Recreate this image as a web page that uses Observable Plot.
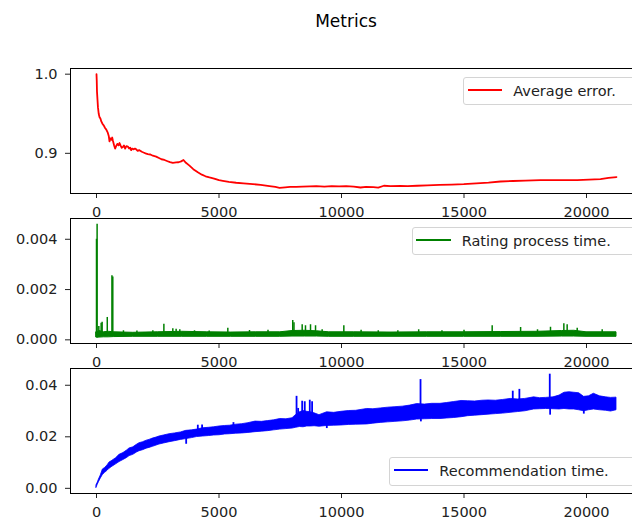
<!DOCTYPE html>
<html><head><meta charset="utf-8">
<script src="https://cdn.jsdelivr.net/npm/d3@7"></script>
<script src="https://cdn.jsdelivr.net/npm/@observablehq/plot@0.6"></script>
<style>
html,body{margin:0;padding:0;background:#fff;overflow:hidden;}
#fig{position:relative;width:632px;height:522px;overflow:hidden;font-family:"DejaVu Sans",sans-serif;background:#fff;}
#title{position:absolute;left:0;width:692px;top:11px;text-align:center;font-size:17px;line-height:20px;color:#000;}
.panel{position:absolute;left:0;}
.legend{position:absolute;box-sizing:border-box;height:28.5px;border:1px solid #d4d4d4;border-radius:3px;background:rgba(255,255,255,0.8);font-size:14.5px;color:#222;white-space:nowrap;}
.legend .sw{position:absolute;left:3.5px;top:11px;width:34.5px;height:2px;}
.legend .tx{position:absolute;left:49px;top:4px;line-height:18px;}
</style></head>
<body>
<div id="fig"><div id="title">Metrics</div></div>
<script>
// ---------- data ----------
const xTicks = [0, 5000, 10000, 15000, 20000];

// Panel 1: Average error
const errX = [0,10,20,40,60,90,120,160,200,250,
  300,350,400,460,500,530,560,600,640,670,
  720,760,800,850,900,940,980,1030,1075,1120,
  1170,1220,1280,1330,1380,1415,1460,1520,1570,1620,
  1680,1740,1800,1850,1920,2000,2095,2200,2300,2435,
  2550,2650,2775,2900,3000,3115,3250,3350,3455,3550,
  3650,3795,3950,4135,4300,4450,4610,4800,5000,5155,
  5400,5700,6000,6380,6700,7060,7300,7470,7700,7900,
  8150,8400,8700,8970,9300,9600,9900,10190,10500,10775,
  11000,11300,11500,11730,12000,12400,12700,13090,13500,14000,
  14500,14990,15500,16000,16490,17000,17500,18120,18600,19000,
  19620,20100,20570,20900,21224];
const errY = [1.000,0.992,0.978,0.968,0.958,0.950,0.946,0.944,0.940,0.937,
  0.935,0.932,0.930,0.926,0.922,0.915,0.919,0.917,0.920,0.916,
  0.910,0.906,0.909,0.912,0.910,0.913,0.910,0.907,0.908,0.910,
  0.906,0.909,0.9085,0.906,0.907,0.904,0.906,0.905,0.906,0.905,
  0.903,0.904,0.903,0.902,0.901,0.900,0.899,0.8985,0.897,0.8958,
  0.894,0.8925,0.8916,0.890,0.8888,0.888,0.8885,0.8887,0.8898,0.8916,
  0.888,0.8844,0.880,0.876,0.873,0.871,0.8695,0.868,0.866,0.8653,
  0.864,0.8628,0.862,0.8611,0.860,0.8586,0.8575,0.8564,0.857,0.8575,
  0.8577,0.858,0.8583,0.8586,0.858,0.8585,0.8582,0.8586,0.8578,0.8568,
  0.8575,0.8572,0.8566,0.859,0.8585,0.8588,0.8585,0.859,0.8595,0.860,
  0.8605,0.861,0.862,0.863,0.8644,0.865,0.8655,0.866,0.8662,0.866,
  0.866,0.8668,0.8675,0.869,0.870];
const errTicks = [0.9, 1.0];

// Panel 2: Rating process time (band of the dense line + its spikes)
const rateX = [0,40,120,300,500,700,
  1500,2500,3500,4500,5500,6500,7500,
  8000,8500,9000,9500,10500,
  12000,13500,15000,16500,18000,
  19000,19500,20000,21224];
const rateLo = [0.00009,0.00008,0.00009,0.0001,0.0001,0.00011,
  0.00012,0.00012,0.00012,0.00012,0.00012,0.00012,0.00012,
  0.00013,0.00013,0.00013,0.00012,0.00012,
  0.00012,0.00012,0.00012,0.00012,0.00012,
  0.00013,0.00013,0.00012,0.00012];
const rateHi = [0.0003,0.0003,0.00035,0.0003,0.00032,0.0003,
  0.00028,0.0003,0.00032,0.0003,0.00029,0.0003,0.0003,
  0.00035,0.00036,0.00034,0.0003,0.0003,
  0.00029,0.0003,0.0003,0.00031,0.00032,
  0.00035,0.00036,0.0003,0.0003];
const rateSpikeX = [0,25,95,190,230,440,630,665,
  1100,1650,2300,2750,3115,3250,3400,4000,4600,5360,
  6245,7000,8010,8060,8395,8530,8735,8940,9210,10095,
  10800,11500,12300,13150,14100,15000,16150,17310,18000,18530,
  19075,19210,19620,20640];
const rateSpikeY = [0.0040,0.0046,0.00053,0.00066,0.0007,0.00089,0.00255,0.0025,
  0.00036,0.00035,0.00036,0.00062,0.00044,0.00042,0.0004,0.00036,0.00035,0.00046,
  0.00037,0.00038,0.00077,0.00068,0.0006,0.00056,0.0006,0.00056,0.0004,0.00056,
  0.00038,0.00036,0.00036,0.0004,0.00036,0.00038,0.00056,0.00049,0.0004,0.0005,
  0.00064,0.0006,0.00046,0.0004];
const rateSpikeBase = 0.0002;
const rateTicks = [0, 0.002, 0.004];

// Panel 3: Recommendation time (band of the dense line + its spikes)
const recX = [0,50,100,175,260,350,450,530,650,800,
  940,1100,1250,1350,1500,1650,1755,1900,2050,2165,
  2300,2450,2570,2750,2980,3200,3450,3660,3900,4100,
  4340,4600,4800,5020,5250,5450,5700,5950,6200,6490,
  6750,7000,7250,7500,7750,8000,8150,8300,8450,8600,
  8750,8900,9100,9410,9700,10000,10300,10600,11050,11300,
  11600,11900,12200,12500,12800,13090,13400,13700,14040,14300,
  14600,14900,15170,15450,15750,16000,16300,16600,16900,17200,
  17500,17860,18100,18350,18650,18900,19100,19300,19500,19700,
  19900,20100,20300,20550,20800,21000,21224];
const recLo = [0.0002,0.0014,0.0024,0.0038,0.0052,0.0060,0.0068,0.0076,0.0084,0.0093,
  0.0102,0.0110,0.0118,0.0125,0.0130,0.0139,0.0144,0.0148,0.0154,0.0157,
  0.0161,0.0166,0.0170,0.0174,0.0179,0.0183,0.0188,0.0191,0.0195,0.0199,
  0.0201,0.0203,0.0205,0.0206,0.0209,0.0210,0.0212,0.0213,0.0215,0.0218,
  0.0220,0.0222,0.0225,0.0228,0.0230,0.0232,0.0235,0.0238,0.0237,0.0240,
  0.0240,0.0241,0.0239,0.0242,0.0243,0.0244,0.0246,0.0247,0.0248,0.0251,
  0.0254,0.0256,0.0258,0.0260,0.0263,0.0267,0.0268,0.0269,0.0269,0.0271,
  0.0273,0.0276,0.0280,0.0282,0.0284,0.0286,0.0288,0.0290,0.0293,0.0296,
  0.0299,0.0306,0.0307,0.0308,0.0307,0.0306,0.0308,0.0306,0.0306,0.0303,
  0.0299,0.0303,0.0306,0.0303,0.0301,0.0298,0.0303];
const recHi = [0.0012,0.0022,0.0034,0.0050,0.0073,0.0079,0.0089,0.0100,0.0107,0.0117,
  0.0130,0.0137,0.0147,0.0155,0.0159,0.0169,0.0175,0.0179,0.0185,0.0188,
  0.0193,0.0197,0.0201,0.0205,0.0210,0.0213,0.0217,0.0223,0.0225,0.0228,
  0.0233,0.0235,0.0237,0.0240,0.0242,0.0243,0.0247,0.0249,0.0253,0.0259,
  0.0258,0.0261,0.0264,0.0269,0.0268,0.0272,0.0285,0.0295,0.0300,0.0297,
  0.0295,0.0291,0.0284,0.0295,0.0293,0.0297,0.0300,0.0301,0.0308,0.0307,
  0.0310,0.0313,0.0315,0.0317,0.0321,0.0327,0.0325,0.0328,0.0328,0.0331,
  0.0335,0.0339,0.0338,0.0337,0.0340,0.0341,0.0340,0.0343,0.0347,0.0345,
  0.0347,0.0353,0.0350,0.0351,0.0353,0.0360,0.0371,0.0373,0.0371,0.0369,
  0.0355,0.0357,0.0367,0.0357,0.0353,0.0351,0.0352];
const recSpikeX = [3660,4135,4310,5590,8165,8230,8395,8500,8705,8800,
  9400,13225,13240,16990,17260,18500,18515,19890];
const recSpikeFrom = [0.0205,0.0225,0.0228,0.0235,0.027,0.027,0.027,0.027,0.027,0.027,
  0.026,0.030,0.030,0.032,0.032,0.033,0.033,0.032];
const recSpikeTo = [0.0171,0.0245,0.0246,0.0255,0.0357,0.031,0.0338,0.0336,0.0342,0.0336,
  0.0232,0.0422,0.0258,0.0377,0.0384,0.0443,0.0284,0.0288];
const recTicks = [0, 0.02, 0.04];

// ---------- layout ----------
function pad(lo, hi) { const r = hi - lo; return [lo - 0.05 * r, hi + 0.05 * r]; }
const allX = [...errX, ...rateX, ...rateSpikeX, ...recX, ...recSpikeX];
const xDomain = pad(d3.min(allX), d3.max(allX));

const W = 650, ML = 70, MR = 8, MT = 10, MB = 30, PH = 125;
const fig = document.getElementById("fig");

function panel(top, yDomain, yTicks, yFmt, marks) {
  const svg = Plot.plot({
    width: W, height: MT + PH + MB,
    marginLeft: ML, marginRight: MR, marginTop: MT, marginBottom: MB,
    style: {background: "transparent", maxWidth: "none", fontFamily: "'DejaVu Sans', sans-serif", fontSize: "14.5px", color: "#222", overflow: "visible"},
    x: {domain: xDomain, ticks: xTicks, tickFormat: d => String(d), tickSize: 5, tickPadding: 8, label: null},
    y: {domain: yDomain, ticks: yTicks, tickFormat: yFmt, tickSize: 5, tickPadding: 8, label: null},
    marks: [...marks, Plot.frame({stroke: "#000", strokeWidth: 1})]
  });
  svg.classList.add("panel");
  svg.style.top = (top - MT) + "px";
  fig.appendChild(svg);
}

function legend(left, top, width, color, label) {
  const d = document.createElement("div");
  d.className = "legend";
  d.style.left = left + "px"; d.style.top = top + "px"; d.style.width = width + "px";
  const s = document.createElement("div"); s.className = "sw"; s.style.background = color;
  const t = document.createElement("div"); t.className = "tx"; t.textContent = label;
  d.appendChild(s); d.appendChild(t);
  fig.appendChild(d);
}

// Panel 1
panel(68.3, pad(d3.min(errY), d3.max(errY)), errTicks, d3.format(".1f"), [
  Plot.line(errX, {x: errX, y: errY, stroke: "#ff0000", strokeWidth: 1.8})
]);

// Panel 2
const rateAll = [...rateLo, ...rateHi, ...rateSpikeY];
panel(218.3, pad(d3.min(rateAll), d3.max(rateAll)), rateTicks, d3.format(".3f"), [
  Plot.areaY(rateX, {x: rateX, y1: rateLo, y2: rateHi, fill: "#008000", stroke: "#008000", strokeWidth: 1}),
  Plot.ruleX(rateSpikeX, {x: rateSpikeX, y1: rateSpikeBase, y2: rateSpikeY, stroke: "#008000", strokeWidth: 1.5})
]);

// Panel 3
const recAll = [...recLo, ...recHi, ...recSpikeFrom, ...recSpikeTo];
panel(368.3, pad(d3.min(recAll), d3.max(recAll)), recTicks, d3.format(".2f"), [
  Plot.areaY(recX, {x: recX, y1: recLo, y2: recHi, fill: "#0000ff", stroke: "#0000ff", strokeWidth: 0.8}),
  Plot.ruleX(recSpikeX, {x: recSpikeX, y1: recSpikeFrom, y2: recSpikeTo, stroke: "#0000ff", strokeWidth: 1.8})
]);

legend(463.3, 76.7, 172, "#ff0000", "Average error.");
legend(411.7, 226.7, 224, "#008000", "Rating process time.");
legend(389.3, 457.3, 246, "#0000ff", "Recommendation time.");
</script>
</body></html>
